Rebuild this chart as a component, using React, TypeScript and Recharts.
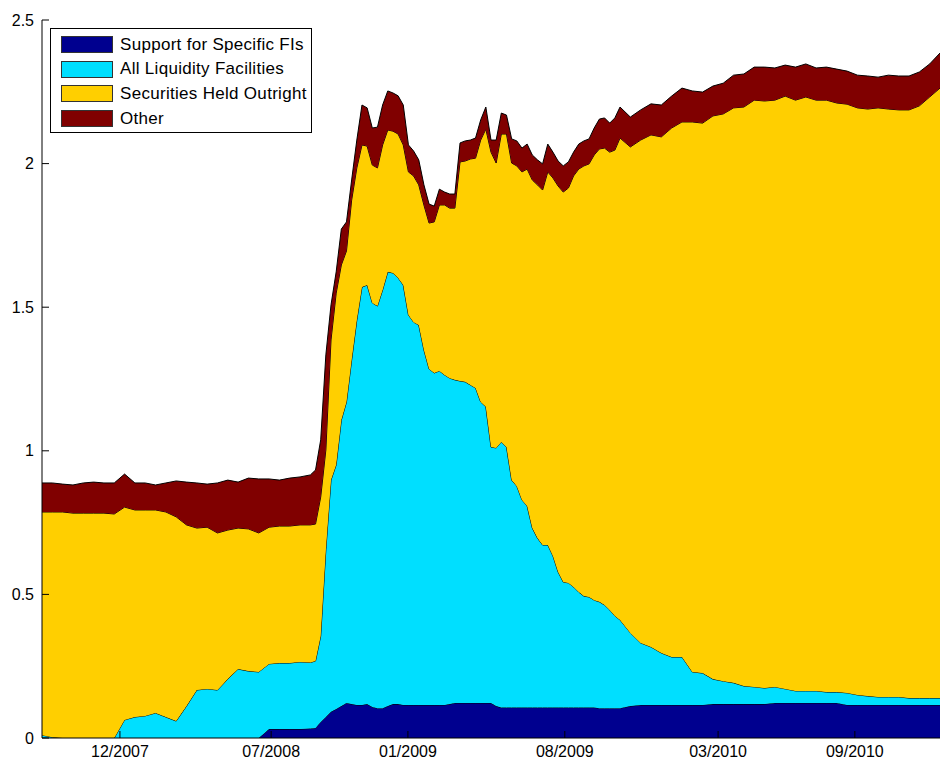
import { AreaChart, Area, XAxis, YAxis } from "recharts";

// week index from start of sample (≈ Aug 2007); weekly around the crisis, every 2 weeks elsewhere
const weeks = [
    0, 2, 4, 6, 8, 10, 12, 14, 16, 18, 20, 22, 24, 26, 28, 30, 32, 34, 36, 38, 40, 42, 44, 46, 48, 50, 52,
    53, 54, 55, 56, 57, 58, 59, 60, 61, 62, 63, 64, 65, 66, 67, 68, 69, 70, 71, 72, 73, 74, 75, 76, 77, 78, 79, 80, 81, 82,
    83, 84, 85, 86, 87, 88, 89, 90, 91, 92, 93, 94, 95, 96, 97, 98, 99, 100, 101, 102, 103, 104, 105, 106, 107, 108, 109, 110, 111, 112,
    114, 116, 118, 120, 122, 124, 126, 128, 130, 132, 134, 136, 138, 140, 142, 144, 146, 148, 150, 152, 154, 156, 158, 160, 162, 164, 166, 168, 170, 172, 174,
];

// trillions of dollars
const support = [
    0, 0, 0, 0, 0, 0, 0, 0, 0, 0, 0, 0, 0, 0, 0, 0, 0, 0, 0, 0, 0, 0, 0.031, 0.031, 0.031, 0.031, 0.033,
    0.035, 0.056, 0.073, 0.091, 0.101, 0.111, 0.122, 0.118, 0.115, 0.115, 0.118, 0.108, 0.104, 0.104, 0.111, 0.118, 0.118, 0.115, 0.115, 0.115,
    0.115, 0.115, 0.115, 0.115, 0.115, 0.115, 0.118, 0.122, 0.122, 0.122, 0.122, 0.122, 0.122, 0.122, 0.122, 0.111,
    0.106, 0.106, 0.106, 0.106, 0.106, 0.106, 0.106, 0.106, 0.106, 0.106, 0.106, 0.106, 0.106, 0.106, 0.106, 0.106, 0.106, 0.106, 0.106,
    0.104, 0.104, 0.104, 0.104, 0.104,
    0.111, 0.115, 0.115, 0.115, 0.115, 0.115, 0.115, 0.115, 0.118, 0.118, 0.118, 0.118, 0.118, 0.118,
    0.122, 0.122, 0.122, 0.122, 0.122, 0.122, 0.122, 0.115, 0.115, 0.115, 0.115, 0.115, 0.115, 0.115, 0.115, 0.115, 0.115,
];

const liquidity = [
    0.01, 0.003, 0, 0, 0, 0, 0, 0, 0.063, 0.073, 0.077, 0.087, 0.073, 0.059, 0.111, 0.167, 0.171, 0.167, 0.205, 0.24, 0.233, 0.23, 0.227, 0.23, 0.23, 0.234, 0.23,
    0.233, 0.299, 0.582, 0.807, 0.85, 0.996, 1.048, 1.198, 1.34, 1.455, 1.459, 1.407, 1.4, 1.456, 1.512, 1.501, 1.484, 1.462, 1.358, 1.333,
    1.323, 1.236, 1.17, 1.156, 1.163, 1.149, 1.135, 1.125, 1.121, 1.118, 1.107, 1.097, 1.048, 1.031, 0.891, 0.899, 0.925, 0.907, 0.792, 0.771,
    0.723, 0.702, 0.625, 0.59, 0.566, 0.566, 0.528, 0.472, 0.437, 0.434, 0.42, 0.402, 0.388, 0.385, 0.374, 0.37, 0.359, 0.342, 0.321, 0.307,
    0.255, 0.216, 0.202, 0.181, 0.167, 0.167, 0.115, 0.111, 0.087, 0.08, 0.074, 0.063, 0.06, 0.056, 0.056, 0.049, 0.042, 0.042, 0.042, 0.038,
    0.038, 0.042, 0.035, 0.031, 0.028, 0.028, 0.028, 0.024, 0.024, 0.024, 0.024,
];

const securities = [
    0.777, 0.784, 0.787, 0.783, 0.783, 0.783, 0.783, 0.78, 0.741, 0.721, 0.717, 0.707, 0.714, 0.711, 0.631, 0.564, 0.563, 0.547, 0.519, 0.491, 0.495, 0.484, 0.476, 0.477, 0.477, 0.477, 0.479,
    0.477, 0.484, 0.348, 0.488, 0.598, 0.54, 0.526, 0.557, 0.53, 0.495, 0.484, 0.48, 0.481, 0.505, 0.494, 0.494, 0.501, 0.488, 0.498, 0.509,
    0.488, 0.505, 0.508, 0.526, 0.578, 0.592, 0.592, 0.598, 0.763, 0.769, 0.787, 0.8, 0.912, 0.967, 1.027, 0.992, 1.072, 1.09, 1.104, 1.115,
    1.142, 1.173, 1.212, 1.23, 1.236, 1.299, 1.316, 1.344, 1.358, 1.375, 1.431, 1.473, 1.498, 1.508, 1.55, 1.577, 1.591, 1.594, 1.622, 1.678,
    1.692, 1.751, 1.783, 1.797, 1.842, 1.863, 1.915, 1.915, 1.961, 1.975, 2.002, 2.016, 2.043, 2.044, 2.043, 2.064, 2.057, 2.068, 2.057, 2.061,
    2.051, 2.05, 2.044, 2.044, 2.051, 2.047, 2.044, 2.048, 2.062, 2.093, 2.124,
];

const other = [
    0.101, 0.101, 0.097, 0.098, 0.105, 0.108, 0.105, 0.108, 0.115, 0.094, 0.094, 0.087, 0.101, 0.125, 0.149, 0.157, 0.15, 0.174, 0.174, 0.16, 0.177, 0.188, 0.168, 0.16, 0.167, 0.167, 0.174,
    0.188, 0.199, 0.331, 0.122, 0.074, 0.125, 0.101, 0.07, 0.097, 0.139, 0.133, 0.129, 0.142, 0.139, 0.136, 0.133, 0.133, 0.139, 0.094, 0.087,
    0.087, 0.07, 0.066, 0.055, 0.055, 0.045, 0.049, 0.049, 0.066, 0.07, 0.066, 0.07, 0.07, 0.077, 0.042, 0.08, 0.073, 0.066, 0.084, 0.087,
    0.083, 0.087, 0.087, 0.087, 0.091, 0.097, 0.09, 0.087, 0.091, 0.091, 0.083, 0.087, 0.087, 0.087, 0.094, 0.104, 0.105, 0.101, 0.112, 0.108,
    0.104, 0.105, 0.108, 0.111, 0.111, 0.118, 0.108, 0.108, 0.104, 0.107, 0.114, 0.115, 0.115, 0.118, 0.112, 0.108, 0.115, 0.115, 0.112, 0.115,
    0.118, 0.115, 0.114, 0.115, 0.107, 0.118, 0.118, 0.118, 0.118, 0.115, 0.122,
];

const tickWeeks = [15.1, 44.4, 70.9, 101.3, 131.0, 157.5];
const tickLabels = ["12/2007", "07/2008", "01/2009", "08/2009", "03/2010", "09/2010"];
const yTicks = [0, 0.5, 1, 1.5, 2, 2.5];

const series = [
    { key: "support", name: "Support for Specific FIs", color: "#00008F" },
    { key: "liquidity", name: "All Liquidity Facilities", color: "#00DFFF" },
    { key: "securities", name: "Securities Held Outright", color: "#FFCF00" },
    { key: "other", name: "Other", color: "#800000" },
];

const data = weeks.map((week, i) => ({
    week,
    support: support[i],
    liquidity: liquidity[i],
    securities: securities[i],
    other: other[i],
}));

const FONT = '"Liberation Sans", Arial, Helvetica, sans-serif';

function LegendBox() {
    return (
        <div
            style={{
                position: "absolute",
                left: 50,
                top: 28,
                width: 262,
                height: 105,
                border: "1px solid #000",
                background: "#fff",
                fontFamily: FONT,
                fontSize: 17,
                letterSpacing: 0.3,
                boxSizing: "border-box",
            }}
        >
            {series.map((s, i) => (
                <div
                    key={s.key}
                    style={{
                        position: "absolute",
                        left: 10,
                        top: 6 + i * 24.7,
                        height: 19,
                        display: "flex",
                        alignItems: "center",
                        whiteSpace: "nowrap",
                    }}
                >
                    <span
                        style={{
                            display: "inline-block",
                            width: 52,
                            height: 17,
                            background: s.color,
                            border: "1px solid #333",
                            boxSizing: "border-box",
                            marginRight: 7,
                        }}
                    />
                    <span>{s.name}</span>
                </div>
            ))}
        </div>
    );
}

export default function App() {
    return (
        <div style={{ position: "absolute", left: 0, top: 0, width: 940, height: 761, background: "#fff" }}>
            <AreaChart
                width={940}
                height={761}
                data={data}
                margin={{ top: 20, right: 0, left: 0, bottom: 0 }}
                style={{ fontFamily: FONT }}
            >
                <XAxis
                    dataKey="week"
                    type="number"
                    domain={[0, 174]}
                    ticks={tickWeeks}
                    tickFormatter={(v: number) => tickLabels[tickWeeks.indexOf(v)] ?? ""}
                    height={23}
                    tickSize={-7}
                    tickMargin={15}
                    stroke="#000"
                    tick={{ fill: "#000", fontSize: 16 }}
                    allowDataOverflow
                />
                <XAxis
                    xAxisId="top"
                    orientation="top"
                    dataKey="week"
                    type="number"
                    domain={[0, 174]}
                    ticks={tickWeeks}
                    height={0}
                    tickSize={-7}
                    tick={() => <g />}
                    stroke="#000"
                />
                <YAxis
                    domain={[0, 2.5]}
                    ticks={yTicks}
                    width={42}
                    tickSize={-7}
                    tickMargin={15}
                    stroke="#000"
                    tick={{ fill: "#000", fontSize: 16 }}
                    allowDataOverflow
                />
                {series.map((s) => (
                    <Area
                        key={s.key}
                        type="linear"
                        dataKey={s.key}
                        name={s.name}
                        stackId="1"
                        stroke="#000"
                        strokeWidth={1}
                        fill={s.color}
                        fillOpacity={1}
                        dot={false}
                        activeDot={false}
                        isAnimationActive={false}
                    />
                ))}
            </AreaChart>
            <LegendBox />
        </div>
    );
}
